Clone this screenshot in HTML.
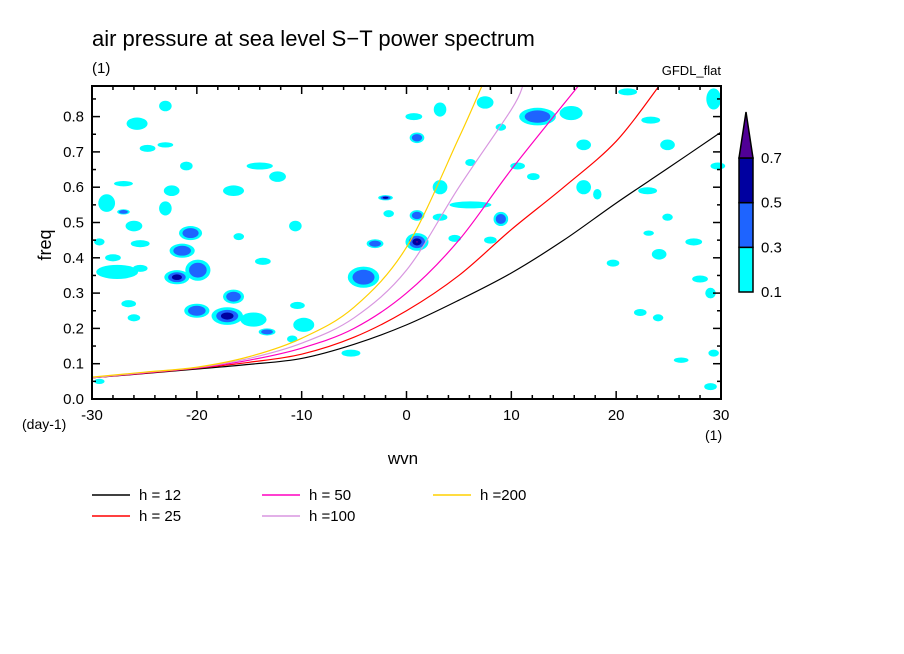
<!DOCTYPE html>
<html><head><meta charset="utf-8"><style>
body{margin:0;background:#fff;}
svg{display:block;font-family:"Liberation Sans",sans-serif;}
</style></head><body>
<svg id="chart" width="904" height="654" viewBox="0 0 904 654">
<text x="92" y="46" font-size="22">air pressure at sea level S−T power spectrum</text>
<text x="92" y="73" font-size="15">(1)</text>
<text x="721" y="75" font-size="13" text-anchor="end">GFDL_flat</text>
<g id="blobs"></g>
<g id="curves"></g>
<rect x="92" y="86" width="629" height="313" fill="none" stroke="#000" stroke-width="2"/>
<g id="axes"></g>
<text x="51" y="245" font-size="18" transform="rotate(-90 51 245)" text-anchor="middle">freq</text>
<text x="403" y="464" font-size="17" text-anchor="middle">wvn</text>
<text x="22" y="429" font-size="14">(day-1)</text>
<text x="705" y="440" font-size="14">(1)</text>
<g id="cbar"></g>
<g id="legend"></g>
</svg>
<script>
const NS="http://www.w3.org/2000/svg";
const xTicks=[-30,-20,-10,0,10,20,30];
const yTicks=[0.0,0.1,0.2,0.3,0.4,0.5,0.6,0.7,0.8];
const curveNames=["h = 12","h = 25","h = 50","h =100","h =200"];
const curveColors=["#000000","#ff0000","#ff00c0","#d896e0","#ffd000"];
const curveWvn=[
[-30,-25,-20,-15,-10,-5,0,5,10,15,20,25,30],
[-30,-25,-20,-15,-10,-5,0,5,10,15,20,24.1],
[-30,-25,-20,-15,-10,-5,0,5,10,16.4],
[-30,-25,-20,-15,-10,-5,0,5,10,11.1],
[-30,-25,-20,-15,-10,-5,0,5,7.2]];
const curveFreq=[
[0.06,0.072,0.085,0.098,0.115,0.155,0.21,0.28,0.357,0.45,0.555,0.655,0.756],
[0.06,0.073,0.087,0.104,0.127,0.175,0.25,0.35,0.48,0.6,0.73,0.887],
[0.06,0.074,0.088,0.11,0.144,0.2,0.3,0.45,0.65,0.887],
[0.06,0.075,0.089,0.115,0.158,0.23,0.365,0.6,0.82,0.887],
[0.062,0.076,0.09,0.12,0.172,0.26,0.43,0.74,0.887]];
// blobs: wvn, freq, width(wvn), height(freq), max level
const blobWvn=[-25.7,-23,-24.7,-23,-21,-14,-12.3,-16.5,-27,-22.4,-28.6,-27,-23,-26,-20.6,-25.4,-21.4,-28,-27.6,-25.4,-21.9,-19.9,-16,-10.6,-13.7,-20,-26.5,-26,-16.5,-17.1,-14.6,-13.3,-9.8,-10.4,-10.9,-29.3,-29.3,
3.2,0.7,1,7.5,12.5,15.7,21.1,29.3,23.3,24.9,16.9,9,6.1,10.6,12.1,3.2,16.9,23,18.2,-2,6.1,1,3.2,9,24.9,-1.7,1,-3,4.6,8,23.1,27.4,24.1,-4.1,28,19.7,22.3,24,-5.3,26.2,29,29.7,29,29.3];
const blobFreq=[0.78,0.83,0.71,0.72,0.66,0.66,0.63,0.59,0.61,0.59,0.555,0.53,0.54,0.49,0.47,0.44,0.42,0.40,0.36,0.37,0.345,0.365,0.46,0.49,0.39,0.25,0.27,0.23,0.29,0.235,0.225,0.19,0.21,0.265,0.17,0.05,0.445,
0.82,0.80,0.74,0.84,0.80,0.81,0.87,0.85,0.79,0.72,0.72,0.77,0.67,0.66,0.63,0.60,0.60,0.59,0.58,0.57,0.55,0.52,0.515,0.51,0.515,0.525,0.445,0.44,0.455,0.45,0.47,0.445,0.41,0.345,0.34,0.385,0.245,0.23,0.13,0.11,0.035,0.66,0.30,0.13];
const blobW=[2,1.2,1.5,1.5,1.2,2.5,1.6,2,1.8,1.5,1.6,1.2,1.2,1.6,2.2,1.8,2.4,1.5,4,1.4,2.4,2.4,1,1.2,1.5,2.4,1.4,1.2,2,3,2.5,1.6,2,1.4,1,1,1,
1.2,1.6,1.4,1.6,3.5,2.2,1.8,1.4,1.8,1.4,1.4,1,1,1.4,1.2,1.4,1.4,1.8,0.8,1.4,4,1.4,1.4,1.4,1,1,2.2,1.6,1.2,1.2,1,1.6,1.4,3,1.5,1.2,1.2,1,1.8,1.4,1.2,1.4,1,1];
const blobH=[0.035,0.03,0.02,0.015,0.025,0.02,0.03,0.03,0.015,0.03,0.05,0.015,0.04,0.03,0.04,0.02,0.04,0.02,0.04,0.02,0.04,0.06,0.02,0.03,0.02,0.04,0.02,0.02,0.04,0.05,0.04,0.02,0.04,0.02,0.02,0.015,0.02,
0.04,0.02,0.03,0.035,0.05,0.04,0.02,0.06,0.02,0.03,0.03,0.02,0.02,0.02,0.02,0.04,0.04,0.02,0.03,0.015,0.02,0.03,0.02,0.04,0.02,0.02,0.05,0.025,0.02,0.02,0.015,0.02,0.03,0.06,0.02,0.02,0.02,0.02,0.02,0.015,0.02,0.02,0.03,0.02];
const blobLev=[1,1,1,1,1,1,1,1,1,1,1,2,1,1,2,1,2,1,1,1,3,2,1,1,1,2,1,1,2,3,1,2,1,1,1,1,1,
1,1,2,1,2,1,1,1,1,1,1,1,1,1,1,1,1,1,1,3,1,2,1,2,1,1,4,2,1,1,1,1,1,2,1,1,1,1,1,1,1,1,1,1];
const levelColors=["#00ffff","#1e64ff","#0000a0","#500096"];
const cbLevels=[0.1,0.3,0.5,0.7];

const X0=92,X1=721,Y0=399,PY=353;
const xs=v=>X0+(v+30)/60*(X1-X0);
const ys=v=>Y0-v*PY;
const xu=d=>d/60*(X1-X0), yu=d=>d*PY;

const blobG=document.getElementById('blobs');
for(let lev=1;lev<=4;lev++){
 for(let i=0;i<blobWvn.length;i++){
  if(blobLev[i]<lev)continue;
  const f=1-(lev-1)*0.3;
  const e=document.createElementNS(NS,'ellipse');
  
  
  e.setAttribute('cx',xs(blobWvn[i]));e.setAttribute('cy',ys(blobFreq[i]));
  e.setAttribute('rx',xu(blobW[i])/2*f);e.setAttribute('ry',yu(blobH[i])/2*f);
  e.setAttribute('fill',levelColors[lev-1]);
  blobG.appendChild(e);
 }
}
function smoothPath(px,py){
 let d=`M${px[0]},${py[0]}`;
 for(let i=0;i<px.length-1;i++){
  const p0=[px[Math.max(i-1,0)],py[Math.max(i-1,0)]],p1=[px[i],py[i]],p2=[px[i+1],py[i+1]],p3=[px[Math.min(i+2,px.length-1)],py[Math.min(i+2,px.length-1)]];
  const c1=[p1[0]+(p2[0]-p0[0])/6,p1[1]+(p2[1]-p0[1])/6],c2=[p2[0]-(p3[0]-p1[0])/6,p2[1]-(p3[1]-p1[1])/6];
  d+=` C${c1[0]},${c1[1]} ${c2[0]},${c2[1]} ${p2[0]},${p2[1]}`;
 }
 return d;
}
const cg=document.getElementById('curves');
for(let k=0;k<curveWvn.length;k++){
 const p=document.createElementNS(NS,'path');
 
 
 p.setAttribute('d',smoothPath(curveWvn[k].map(xs),curveFreq[k].map(ys)));
 p.setAttribute('fill','none');p.setAttribute('stroke',curveColors[k]);p.setAttribute('stroke-width','1.2');
 cg.appendChild(p);
}
const ag=document.getElementById('axes');
function line(g,x1,y1,x2,y2,c,w){const l=document.createElementNS(NS,'line');l.setAttribute('x1',x1);l.setAttribute('y1',y1);l.setAttribute('x2',x2);l.setAttribute('y2',y2);l.setAttribute('stroke',c);l.setAttribute('stroke-width',w);g.appendChild(l);return l;}
for(let v=-30;v<=30;v+=2){const big=v%10===0;const x=xs(v);
 let l=line(ag,x,Y0,x,Y0-(big?8:4),'#000',1.5);
 l=line(ag,x,86,x,86+(big?8:4),'#000',1.5);}
for(let v=0;v<=0.88;v+=0.05){const big=Math.round(v*100)%10===0;const y=ys(v);
 let l=line(ag,X0,y,X0+(big?8:4),y,'#000',1.5);
 l=line(ag,X1,y,X1-(big?8:4),y,'#000',1.5);}
xTicks.forEach(v=>{const t=document.createElementNS(NS,'text');
 
 
 t.setAttribute('x',xs(v));t.setAttribute('y',420);t.setAttribute('text-anchor','middle');t.setAttribute('font-size','15');t.textContent=v;ag.appendChild(t);});
yTicks.forEach(v=>{const t=document.createElementNS(NS,'text');
 
 
 t.setAttribute('x',84);t.setAttribute('y',ys(v)+5);t.setAttribute('text-anchor','end');t.setAttribute('font-size','15');t.textContent=v.toFixed(1);ag.appendChild(t);});
// colorbar
const cb=document.getElementById('cbar');
const cby=v=>292-(v-0.1)/0.6*134;
for(let i=0;i<cbLevels.length-1;i++){const r=document.createElementNS(NS,'rect');
 
 
 r.setAttribute('x',739);r.setAttribute('y',cby(cbLevels[i+1]));r.setAttribute('width',14);r.setAttribute('height',cby(cbLevels[i])-cby(cbLevels[i+1]));
 r.setAttribute('fill',levelColors[i]);r.setAttribute('stroke','#000');r.setAttribute('stroke-width','1.5');cb.appendChild(r);}
const tri=document.createElementNS(NS,'polygon');


tri.setAttribute('points',`739,${cby(0.7)} 753,${cby(0.7)} 746,112`);tri.setAttribute('fill',levelColors[3]);tri.setAttribute('stroke','#000');tri.setAttribute('stroke-width','1.5');cb.appendChild(tri);
cbLevels.forEach(v=>{const t=document.createElementNS(NS,'text');
 
 
 t.setAttribute('x',761);t.setAttribute('y',cby(v)+5);t.setAttribute('font-size','15');t.textContent=v.toFixed(1);cb.appendChild(t);});
// legend
const lg=document.getElementById('legend');
const legPos=[[92,495],[92,516],[262,495],[262,516],[433,495]];
for(let k=0;k<curveNames.length;k++){const [x,y]=legPos[k];
 const l=line(lg,x,y,x+38,y,curveColors[k],1.5);
 
 
 const t=document.createElementNS(NS,'text');
 
 
 t.setAttribute('x',x+47);t.setAttribute('y',y+5);t.setAttribute('font-size','15');t.setAttribute('xml:space','preserve');t.style.whiteSpace='pre';t.textContent=curveNames[k];lg.appendChild(t);}
</script>
</body></html>
